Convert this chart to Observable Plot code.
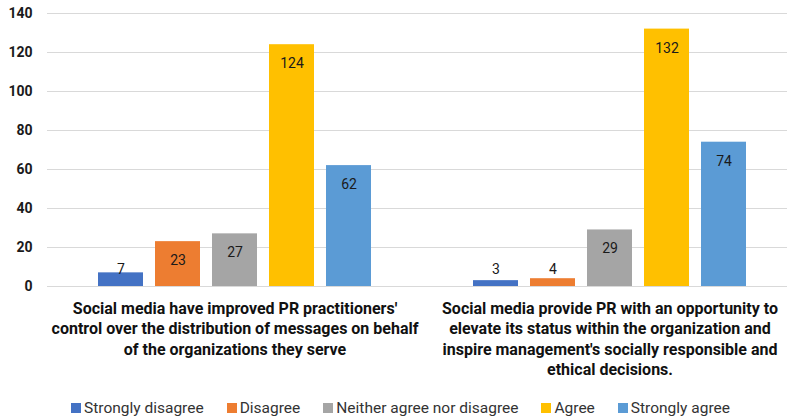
<!DOCTYPE html>
<html>
<head>
<meta charset="utf-8">
<script src="https://cdn.jsdelivr.net/npm/d3@7"></script>
<script src="https://cdn.jsdelivr.net/npm/@observablehq/plot@0.6"></script>
<style>
  html, body { margin: 0; padding: 0; background: #fff; }
  #chart { width: 787px; }
  #legend { display: flex; justify-content: center; gap: 23px; font-family: Roboto, "Noto Sans", sans-serif; font-size: 15.5px; color: #333; height: 28px; align-items: center; margin-left: 14px; }
  #legend .item { display: flex; align-items: center; gap: 3px; }
  #legend .sw { width: 10px; height: 10px; display: inline-block; }
</style>
</head>
<body>
<div id="chart"></div>
<script>
const questions = [
  "Social media have improved PR practitioners' control over the distribution of messages on behalf of the organizations they serve",
  "Social media provide PR with an opportunity to elevate its status within the organization and inspire management's socially responsible and ethical decisions."
];
const questionLabels = [
  "Social media have improved PR practitioners'\ncontrol over the distribution of messages on behalf\nof the organizations they serve",
  "Social media provide PR with an opportunity to\nelevate its status within the organization and\ninspire management's socially responsible and\nethical decisions."
];
const responses = ["Strongly disagree", "Disagree", "Neither agree nor disagree", "Agree", "Strongly agree"];
const colors = ["#4472C4", "#ED7D31", "#A5A5A5", "#FFC000", "#5B9BD5"];
const valuesQ1 = [7, 23, 27, 124, 62];
const valuesQ2 = [3, 4, 29, 132, 74];
const yTicks = [0, 20, 40, 60, 80, 100, 120, 140];

const data = [];
[valuesQ1, valuesQ2].forEach((vals, qi) => {
  vals.forEach((v, ri) => data.push({question: questions[qi], response: responses[ri], value: v}));
});

const labelMap = new Map(questions.map((q, i) => [q, questionLabels[i]]));
const font = "Roboto, 'Noto Sans', sans-serif";

const chart = Plot.plot({
  width: 787,
  height: 394,
  marginLeft: 47,
  marginRight: -10,
  marginTop: 13,
  marginBottom: 108,
  style: {fontFamily: font, background: "#fff", overflow: "hidden"},
  fx: {domain: questions, padding: 0, label: null},
  x: {domain: responses, paddingInner: 0.217, paddingOuter: 0.87, axis: null},
  y: {domain: [0, 140], label: null},
  color: {domain: responses, range: colors},
  marks: [
    Plot.gridY(yTicks, {stroke: "#d9d9d9", strokeOpacity: 1, strokeWidth: 1}),
    Plot.axisY(yTicks, {tickSize: 0, tickPadding: 15, fontSize: 14, fontWeight: "bold", fill: "#1a1a1a", label: null}),
    Plot.axisFx({anchor: "bottom", tickSize: 0, tickPadding: 13, fontSize: 16, fontWeight: "bold", fill: "#111", lineHeight: 1.27, tickFormat: d => labelMap.get(d), label: null}),
    Plot.barY(data, {fx: "question", x: "response", y: "value", fill: "response"}),
    Plot.ruleY([0], {stroke: "#d9d9d9"}),
    Plot.text(data.filter(d => d.value > 15), {fx: "question", x: "response", y: "value", text: d => String(d.value), dy: 19, fontSize: 14, fill: "#1a1a1a"}),
    Plot.text(data.filter(d => d.value <= 15), {fx: "question", x: "response", y: 0, text: d => String(d.value), dy: -17, fontSize: 14, fill: "#1a1a1a"})
  ]
});
document.getElementById("chart").appendChild(chart);

const legend = document.createElement("div");
legend.id = "legend";
responses.forEach((r, i) => {
  const item = document.createElement("span");
  item.className = "item";
  const sw = document.createElement("span");
  sw.className = "sw";
  sw.style.background = colors[i];
  const t = document.createElement("span");
  t.textContent = r;
  item.appendChild(sw);
  item.appendChild(t);
  legend.appendChild(item);
});
document.getElementById("chart").appendChild(legend);
</script>
</body>
</html>
